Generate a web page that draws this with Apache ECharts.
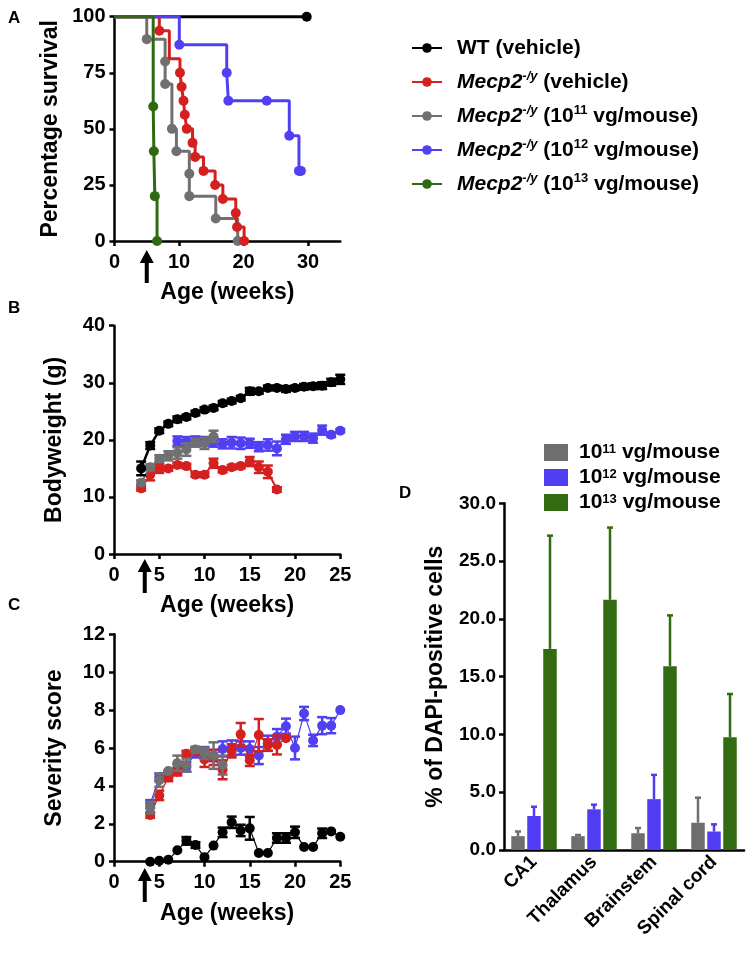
<!DOCTYPE html>
<html>
<head>
<meta charset="utf-8">
<script src="https://cdn.jsdelivr.net/npm/echarts@6/dist/echarts.min.js"></script>
<style>
html,body{margin:0;padding:0;background:#fff;}
#main{width:747px;height:960px;}
</style>
</head>
<body>
<div id="main"></div>
<script>
// ---- panel A : survival, x = week of event, y = % still alive after it
var survWtX   = [0, 29.8];
var survWtY   = [100, 100];
var survRedX  = [0, 6.95, 8.5, 10.15, 10.4, 10.7, 10.9, 11.2, 12.1, 12.5, 13.8, 15.6, 16.8, 18.8, 19.0, 20.1];
var survRedY  = [100, 93.75, 81.25, 75, 68.75, 62.5, 56.25, 50, 43.75, 37.5, 31.25, 25, 18.75, 12.5, 6.25, 0];
var survGrayX = [0, 5.0, 7.85, 7.85, 8.9, 9.6, 11.6, 11.6, 15.7, 19.1];
var survGrayY = [100, 90, 80, 70, 50, 40, 30, 20, 10, 0];
var survBlueX = [0, 10.05, 17.4, 17.65, 23.6, 27.1, 28.6, 28.9];
var survBlueY = [100, 87.5, 75, 62.5, 62.5, 46.9, 31.25, 31.25];
var survGrnX  = [0, 6.0, 6.1, 6.25, 6.6];
var survGrnY  = [100, 60, 40, 20, 0];

// ---- panel B : bodyweight (g)
var bwWtWk   = [3,4,5,6,7,8,9,10,11,12,13,14,15,16,17,18,19,20,21,22,23,24,25];
var bwWt     = [15.0,19.0,21.6,22.8,23.6,24.0,24.7,25.3,25.6,26.4,26.8,27.3,28.5,28.5,29.1,29.1,28.9,29.1,29.3,29.4,29.5,30.1,30.6];
var bwWtErr  = [1.2,0.6,0.4,0.4,0.5,0.4,0.4,0.4,0.4,0.4,0.4,0.4,0.6,0.4,0.4,0.4,0.5,0.4,0.5,0.5,0.6,0.6,0.8];
var bwRedWk  = [3,4,5,6,7,8,9,10,11,12,13,14,15,16,17,18];
var bwRed    = [11.5,13.9,15.0,15.0,15.6,15.4,13.9,13.9,15.9,14.7,15.2,15.4,16.2,15.2,14.4,11.3];
var bwRedErr = [0.4,1.0,0.8,0.4,0.4,0.4,0.4,0.4,0.8,0.4,0.4,0.4,0.8,1.0,1.1,0.4];
var bwGrayWk = [3,4,5,6,7,8,9,10,11];
var bwGray   = [12.5,15.2,16.7,17.2,17.7,18.3,19.5,19.4,20.6];
var bwGrayErr= [0.4,0.5,0.6,0.8,1.0,1.1,0.7,1.0,1.0];
var bwBlueWk = [7,8,9,10,11,12,13,14,15,16,17,18,19,20,21,22,23,24,25];
var bwBlue   = [19.8,19.7,19.8,19.7,19.6,19.3,19.5,19.4,19.4,18.8,19.1,18.5,20.1,20.6,20.6,20.3,21.7,20.9,21.6];
var bwBlueErr= [0.8,0.8,0.8,0.8,0.8,0.8,1.0,1.0,0.8,0.8,1.0,1.2,0.8,0.8,0.8,0.8,0.8,0.4,0.3];

// ---- panel C : severity score
var svWtWk   = [4,5,6,7,8,9,10,11,12,13,14,15,16,17,18,19,20,21,22,23,24,25];
var svWt     = [0,0.05,0.1,0.6,1.1,0.88,0.24,0.85,1.55,2.08,1.65,1.76,0.46,0.46,1.25,1.25,1.55,0.78,0.78,1.5,1.6,1.32];
var svWtErr  = [0,0,0,0,0.2,0.15,0,0,0.25,0.3,0.3,0.6,0,0,0.25,0.25,0.3,0,0,0.25,0,0];
var svRedWk  = [4,5,6,7,8,9,10,11,12,13,14,15,16,17,18,19];
var svRed    = [2.46,3.5,4.45,4.75,5.7,5.8,5.4,5.5,4.85,5.85,6.72,5.35,6.68,6.16,6.16,6.52];
var svRedErr = [0.15,0.25,0.2,0.2,0.15,0.15,0.4,0.4,0.5,0.35,0.6,0.3,0.85,0.3,0.5,0];
var svGrayWk = [4,5,6,7,8,9,10,11,12];
var svGray   = [2.85,4.3,4.78,5.2,5.1,5.92,5.72,5.6,5.1];
var svGrayErr= [0.3,0.35,0,0.4,0.35,0.15,0.3,0.7,0.5];
var svBlueWk = [4,5,6,7,8,9,10,11,12,13,14,15,16,17,18,19,20,21,22,23,24,25];
var svBlue   = [3.05,4.45,4.6,4.9,5.0,5.75,5.75,5.6,5.95,6.0,6.0,5.95,5.6,6.25,6.6,7.15,6.0,7.82,6.4,7.18,7.18,8.0];
var svBlueErr= [0.2,0.2,0.2,0.25,0.25,0.25,0.3,0.3,0.4,0.4,0.35,0.4,0.45,0.4,0.4,0.4,0.6,0.35,0.3,0.45,0.4,0];

// ---- panel D : % of DAPI-positive cells
var regions  = ['CA1', 'Thalamus', 'Brainstem', 'Spinal cord'];
var dapi11   = [1.2, 1.2, 1.45, 2.36];
var dapi11Err= [0.4, 0.1, 0.45, 2.17];
var dapi12   = [2.94, 3.52, 4.4, 1.6];
var dapi12Err= [0.8, 0.4, 2.1, 0.62];
var dapi13   = [17.4, 21.65, 15.9, 9.75];
var dapi13Err= [9.8, 6.25, 4.4, 3.75];

var cBlack = '#000000', cRed = '#d4201f', cGray = '#707070', cBlue = '#5040f2', cGreen = '#2f6a12';
var FONT = 'Liberation Sans, Arial, sans-serif';

var chart = echarts.init(document.getElementById('main'));

var labelStyle = {color:'#000', fontWeight:'bold', fontSize:20, fontFamily:FONT};
var nameStyle = {color:'#000', fontWeight:'bold', fontSize:23, fontFamily:FONT};
function xAx(idx, max, step, ticks, gap){
	return {
		type:'value', gridIndex:idx, min:0, max:max, interval:step,
		axisLine:{onZero:false, lineStyle:{color:'#000', width:2.5}},
		axisTick:{length:5, lineStyle:{width:2.5, color:'#000'}, customValues:ticks},
		axisLabel:Object.assign({margin:11, customValues:ticks}, labelStyle),
		splitLine:{show:false},
		name:'Age (weeks)', nameLocation:'middle', nameGap:gap, nameTextStyle:nameStyle
	};
}
function yAx(idx, max, step, name, gap){
	return {
		type:'value', gridIndex:idx, min:0, max:max, interval:step,
		axisLine:{lineStyle:{color:'#000', width:2.5}},
		axisTick:{length:5, lineStyle:{width:2.5, color:'#000'}},
		axisLabel:Object.assign({margin:9}, labelStyle),
		splitLine:{show:false},
		name:name, nameLocation:'middle', nameGap:gap, nameTextStyle:nameStyle
	};
}

function survSeries(name, xs, ys, color, hide, z){
	var data = xs.map(function(x,i){
		var d = {value:[x, ys[i]]};
		if(i == 0 || hide.indexOf(i) >= 0) d.symbol = 'none';
		return d;
	});
	return {type:'line', name:name, xAxisIndex:0, yAxisIndex:0, step:'end', data:data,
		symbol:'circle', symbolSize:10, showAllSymbol:true, clip:false, z:z,
		lineStyle:{width:3, color:color}, itemStyle:{color:color}};
}
function lineSeries(name, ai, xs, ys, color, lw, z){
	return {type:'line', name:name, xAxisIndex:ai, yAxisIndex:ai,
		data:xs.map(function(x,i){return [x, ys[i]];}),
		symbol:'circle', symbolSize:10, showAllSymbol:true, clip:false, z:z,
		lineStyle:{width:lw, color:color}, itemStyle:{color:color}};
}
function errSeries(ai, xs, ys, es, color, z){
	return {type:'custom', name:'err', xAxisIndex:ai, yAxisIndex:ai, z:z, clip:false,
		data:xs.map(function(x,i){return [x, ys[i]-es[i], ys[i]+es[i]];}),
		encode:{x:0, y:[1,2]},
		renderItem:function(params, api){
			if(api.value(2) - api.value(1) < 0.01) return {type:'group', children:[]};
			var lo = api.coord([api.value(0), api.value(1)]);
			var hi = api.coord([api.value(0), api.value(2)]);
			var w = 5, st = {stroke:color, lineWidth:2.5};
			return {type:'group', children:[
				{type:'line', shape:{x1:lo[0], y1:lo[1], x2:hi[0], y2:hi[1]}, style:st},
				{type:'line', shape:{x1:lo[0]-w, y1:lo[1], x2:lo[0]+w, y2:lo[1]}, style:st},
				{type:'line', shape:{x1:hi[0]-w, y1:hi[1], x2:hi[0]+w, y2:hi[1]}, style:st}
			]};
		}};
}
var barW = 13.5, barStep = 16;
function barSeries(name, vals, color){
	return {type:'bar', name:name, xAxisIndex:3, yAxisIndex:3, data:vals, barWidth:barW, barGap:'18.5%',
		itemStyle:{color:color}};
}
function barErr(vals, errs, color, off){
	return {type:'custom', name:'err', xAxisIndex:3, yAxisIndex:3, z:3,
		data:vals.map(function(v,i){return [i, v, v+errs[i]];}),
		encode:{x:0, y:[1,2]},
		renderItem:function(params, api){
			var b = api.coord([api.value(0), api.value(1)]);
			var t = api.coord([api.value(0), api.value(2)]);
			var x = b[0] + off, st = {stroke:color, lineWidth:2.5};
			return {type:'group', children:[
				{type:'line', shape:{x1:x, y1:b[1], x2:x, y2:t[1]}, style:st},
				{type:'line', shape:{x1:x-3, y1:t[1], x2:x+3, y2:t[1]}, style:st}
			]};
		}};
}

var legendNames = {
	wt:'WT (vehicle)',
	mv:'{i|Mecp2}{si|-/y} (vehicle)',
	m11:'{i|Mecp2}{si|-/y} (10{s|11} vg/mouse)',
	m12:'{i|Mecp2}{si|-/y} (10{s|12} vg/mouse)',
	m13:'{i|Mecp2}{si|-/y} (10{s|13} vg/mouse)',
	d11:'10{s|11} vg/mouse',
	d12:'10{s|12} vg/mouse',
	d13:'10{s|13} vg/mouse'
};
var richText = {
	i:{fontStyle:'italic', fontWeight:'bold', fontSize:21, fontFamily:FONT, color:'#000', lineHeight:24},
	si:{fontStyle:'italic', fontWeight:'bold', fontSize:13, fontFamily:FONT, color:'#000', verticalAlign:'top', lineHeight:14},
	s:{fontWeight:'bold', fontSize:13, fontFamily:FONT, color:'#000', verticalAlign:'top', lineHeight:14}
};

var option = {
	animation:false,
	backgroundColor:'#fff',
	grid:[
		{left:114.5, top:16.7, width:225.75, height:224.3},
		{left:114, top:325.7, width:226.25, height:228.3},
		{left:114, top:634.3, width:226.25, height:227.4},
		{left:504, top:503.3, width:240, height:346.7}
	],
	legend:[
		{data:['wt','mv','m11','m12','m13'], orient:'vertical', left:411, top:36, itemGap:10, padding:0,
			itemWidth:30, itemHeight:12, selectedMode:false,
			formatter:function(n){return legendNames[n];},
			textStyle:{fontSize:21, fontWeight:'bold', fontFamily:FONT, color:'#000', lineHeight:24,
				padding:[0,0,0,10], rich:richText}},
		{data:['d11','d12','d13'], orient:'vertical', left:544, top:442, itemGap:4, icon:'rect', padding:0,
			itemWidth:24, itemHeight:17, selectedMode:false,
			formatter:function(n){return legendNames[n];},
			textStyle:{fontSize:21, fontWeight:'bold', fontFamily:FONT, color:'#000', lineHeight:20,
				padding:[0,0,0,6], rich:richText}}
	],
	xAxis:[
		xAx(0, 35, 10, [0,10,20,30], 40),
		xAx(1, 25, 5, [0,5,10,15,20,25], 40),
		xAx(2, 25, 5, [0,5,10,15,20,25], 40),
		{type:'category', gridIndex:3, data:regions,
			axisLine:{lineStyle:{color:'#000', width:2.5}},
			axisTick:{alignWithLabel:true, length:5, lineStyle:{width:2.5, color:'#000'}},
			axisLabel:{rotate:45, margin:9, color:'#000', fontWeight:'bold', fontSize:19, fontFamily:FONT, interval:0}}
	],
	yAxis:[
		yAx(0, 100, 25, 'Percentage survival', 52),
		yAx(1, 40, 10, 'Bodyweight (g)', 48),
		yAx(2, 12, 2, 'Severity score', 48),
		{type:'value', gridIndex:3, min:0, max:30, interval:5,
			axisLine:{show:true, lineStyle:{color:'#000', width:2.5}},
			axisTick:{show:true, length:5, lineStyle:{width:2.5, color:'#000'}},
			axisLabel:{margin:8, color:'#000', fontWeight:'bold', fontSize:19, fontFamily:FONT,
				formatter:function(v){return v.toFixed(1);}},
			splitLine:{show:false},
			name:'% of DAPI-positive cells', nameLocation:'middle', nameGap:57, nameTextStyle:nameStyle}
	],
	series:[
		survSeries('wt', survWtX, survWtY, cBlack, [], 2),
		survSeries('m11', survGrayX, survGrayY, cGray, [], 3),
		survSeries('mv', survRedX, survRedY, cRed, [2], 4),
		survSeries('m12', survBlueX, survBlueY, cBlue, [], 5),
		survSeries('m13', survGrnX, survGrnY, cGreen, [], 6),

		lineSeries('mv', 1, bwRedWk, bwRed, cRed, 2, 2), errSeries(1, bwRedWk, bwRed, bwRedErr, cRed, 2),
		lineSeries('m12', 1, bwBlueWk, bwBlue, cBlue, 1.5, 3), errSeries(1, bwBlueWk, bwBlue, bwBlueErr, cBlue, 3),
		lineSeries('m11', 1, bwGrayWk, bwGray, cGray, 2, 4), errSeries(1, bwGrayWk, bwGray, bwGrayErr, cGray, 4),
		lineSeries('wt', 1, bwWtWk, bwWt, cBlack, 2.5, 5), errSeries(1, bwWtWk, bwWt, bwWtErr, cBlack, 5),

		lineSeries('m12', 2, svBlueWk, svBlue, cBlue, 1.2, 2), errSeries(2, svBlueWk, svBlue, svBlueErr, cBlue, 2),
		lineSeries('mv', 2, svRedWk, svRed, cRed, 1.2, 3), errSeries(2, svRedWk, svRed, svRedErr, cRed, 3),
		lineSeries('m11', 2, svGrayWk, svGray, cGray, 1.2, 4), errSeries(2, svGrayWk, svGray, svGrayErr, cGray, 4),
		lineSeries('wt', 2, svWtWk, svWt, cBlack, 1.2, 5), errSeries(2, svWtWk, svWt, svWtErr, cBlack, 5),

		barSeries('d11', dapi11, '#6e6e6e'),
		barSeries('d12', dapi12, '#4f3cf3'),
		barSeries('d13', dapi13, '#336b12'),
		barErr(dapi11, dapi11Err, '#6e6e6e', -barStep),
		barErr(dapi12, dapi12Err, '#4f3cf3', 0),
		barErr(dapi13, dapi13Err, '#336b12', barStep)
	]
};
chart.setOption(option);

// arrows marking the injection age, and panel letters
function arrow(x, y0, y1){
	return {type:'polygon', z:100, shape:{points:[[x, y0], [x+7, y0+13], [x+2, y0+13], [x+2, y1], [x-2, y1], [x-2, y0+13], [x-7, y0+13]]},
		style:{fill:'#000'}};
}
var axA = chart.convertToPixel({xAxisIndex:0}, 5);
var axB = chart.convertToPixel({xAxisIndex:1}, 3.4);
var axC = chart.convertToPixel({xAxisIndex:2}, 3.4);
function letter(t, x, y){
	return {type:'text', z:100, left:x, top:y, style:{text:t, fill:'#000', font:'bold 17px ' + FONT}};
}
chart.setOption({graphic:[
	arrow(axA, 250, 283), arrow(axB, 559, 593), arrow(axC, 868, 902),
	letter('A', 8, 10), letter('B', 8, 300), letter('C', 8, 597), letter('D', 399, 485)
]});
</script>
</body>
</html>
